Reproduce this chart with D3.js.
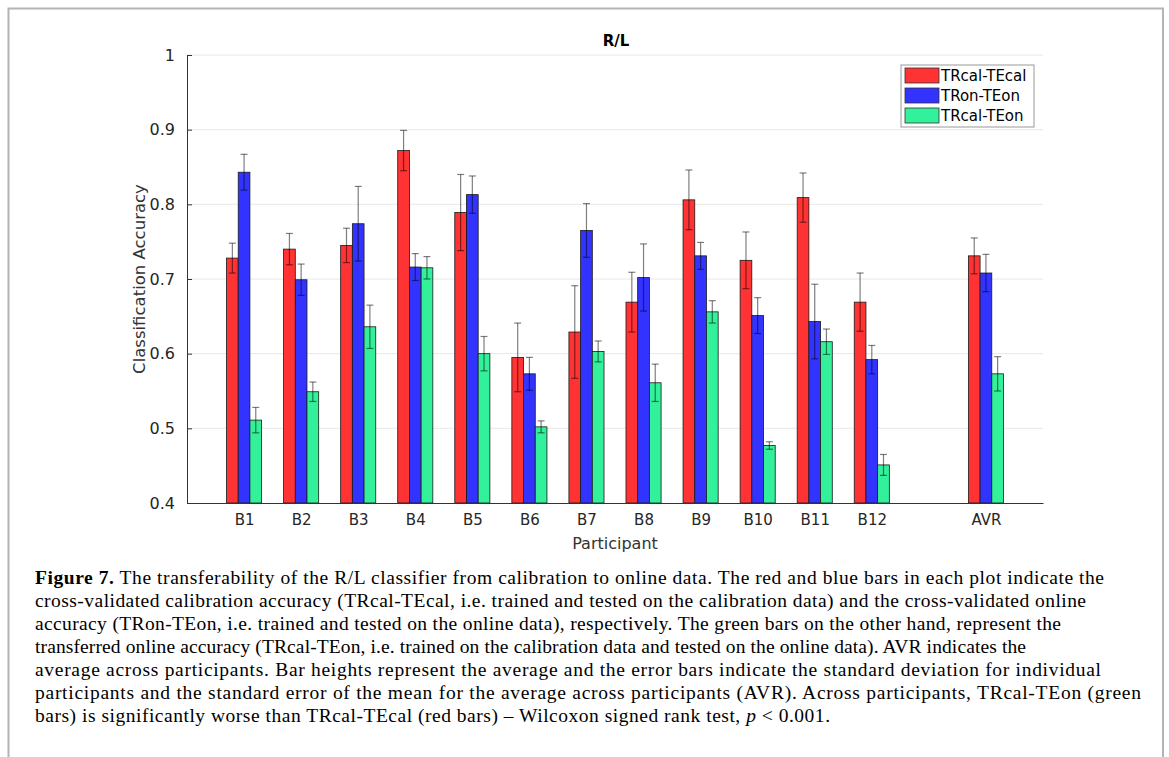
<!DOCTYPE html>
<html>
<head>
<meta charset="utf-8">
<script src="https://cdn.jsdelivr.net/npm/d3@7"></script>
<style>
  html, body { margin: 0; padding: 0; background: #fff; }
  svg { display: block; }
</style>
</head>
<body>
<svg id="chart" width="1169" height="757"></svg>
<script>
// ---------- data ----------
const categories = ["B1","B2","B3","B4","B5","B6","B7","B8","B9","B10","B11","B12","AVR"];
const seriesNames = ["TRcal-TEcal","TRon-TEon","TRcal-TEon"];
const seriesColors = ["#ff3333","#3333ff","#33f09a"];
const trcalTecal    = [0.728,0.740,0.745,0.872,0.789,0.595,0.629,0.669,0.806,0.725,0.809,0.669,0.731];
const trcalTecalErr = [0.020,0.021,0.023,0.027,0.051,0.046,0.062,0.040,0.040,0.038,0.033,0.039,0.024];
const tronTeon      = [0.843,0.699,0.774,0.716,0.813,0.573,0.765,0.702,0.731,0.651,0.643,0.592,0.708];
const tronTeonErr   = [0.024,0.021,0.050,0.018,0.025,0.022,0.036,0.045,0.018,0.024,0.050,0.019,0.025];
const trcalTeon     = [0.511,0.549,0.636,0.715,0.600,0.502,0.603,0.561,0.656,0.477,0.616,0.451,0.573];
const trcalTeonErr  = [0.017,0.013,0.029,0.015,0.023,0.008,0.014,0.025,0.015,0.005,0.017,0.014,0.023];
const yTicks = [0.4,0.5,0.6,0.7,0.8,0.9,1];
const yTickLabels = ["0.4","0.5","0.6","0.7","0.8","0.9","1"];
const title = "R/L";
const xLabel = "Participant";
const yLabel = "Classification Accuracy";
const captionBold = "Figure 7.";
const captionLines = [
  " The transferability of the R/L classifier from calibration to online data. The red and blue bars in each plot indicate the",
  "cross-validated calibration accuracy (TRcal-TEcal, i.e. trained and tested on the calibration data) and the cross-validated online",
  "accuracy (TRon-TEon, i.e. trained and tested on the online data), respectively. The green bars on the other hand, represent the",
  "transferred online accuracy (TRcal-TEon, i.e. trained on the calibration data and tested on the online data). AVR indicates the",
  "average across participants. Bar heights represent the average and the error bars indicate the standard deviation for individual",
  "participants and the standard error of the mean for the average across participants (AVR). Across participants, TRcal-TEon (green",
  "bars) is significantly worse than TRcal-TEcal (red bars) \u2013 Wilcoxon signed rank test, "
];
// measured widths of each caption line in the reference (px)
const captionWidths = [1069, 1051, 1026, 991, 1066, 1106, 795];

const seriesVals = [trcalTecal, tronTeon, trcalTeon];
const seriesErrs = [trcalTecalErr, tronTeonErr, trcalTeonErr];

// ---------- layout ----------
const svg = d3.select("#chart");
const plotL = 187, plotR = 1043, plotT = 55, plotB = 503;

// slot index: participants 1..12, one empty slot, then AVR
const slotOf = (c, i) => c === "AVR" ? i + 2 : i + 1;
const x = d3.scaleLinear().domain([0, categories.length + 2]).range([plotL, plotR]);
const y = d3.scaleLinear().domain([0.4, 1]).range([plotB, plotT]);
const barW = (x(1) - x(0)) * 0.205;

// page border
svg.append("path")
  .attr("d", "M8.5,757 V8.5 H1163 V757")
  .attr("fill", "none").attr("stroke", "#b4b4b4").attr("stroke-width", 2);

// gridlines
svg.append("g").selectAll("line").data(yTicks.filter(v => v > 0.4)).join("line")
  .attr("x1", plotL).attr("x2", plotR)
  .attr("y1", d => y(d)).attr("y2", d => y(d))
  .attr("stroke", "#e8e8e8").attr("stroke-width", 1);

// bars
const flat = [];
seriesVals.forEach((vals, s) => vals.forEach((v, i) => flat.push({s, i, v, e: seriesErrs[s][i], c: categories[i]})));

svg.append("g").selectAll("rect").data(flat).join("rect")
  .attr("x", d => x(slotOf(d.c, d.i)) + (d.s - 1.5) * barW)
  .attr("width", barW)
  .attr("y", d => y(d.v))
  .attr("height", d => y(0.4) - y(d.v))
  .attr("fill", d => seriesColors[d.s])
  .attr("stroke", "#1a1a1a").attr("stroke-width", 0.8);

// error bars
const eg = svg.append("g").attr("stroke", "#000").attr("stroke-opacity", 0.5).attr("stroke-width", 1.2);
flat.forEach(d => {
  const cx = x(slotOf(d.c, d.i)) + (d.s - 1) * barW;
  const y1 = y(d.v + d.e), y0 = y(d.v - d.e);
  eg.append("line").attr("x1", cx).attr("x2", cx).attr("y1", y1).attr("y2", y0);
  eg.append("line").attr("x1", cx - 3.5).attr("x2", cx + 3.5).attr("y1", y1).attr("y2", y1);
  eg.append("line").attr("x1", cx - 3.5).attr("x2", cx + 3.5).attr("y1", y0).attr("y2", y0);
});

// axes
const yAxis = d3.axisLeft(y).tickValues(yTicks).tickFormat((d, i) => yTickLabels[i]).tickSizeInner(-5).tickSizeOuter(0).tickPadding(12);
const yg = svg.append("g").attr("transform", `translate(${plotL},0)`).call(yAxis);
yg.select(".domain").attr("stroke", "#333");
yg.selectAll(".tick line").attr("stroke", "#333");
yg.selectAll("text").attr("font-family", "DejaVu Sans, sans-serif").attr("font-size", 16).attr("fill", "#262626");

const xAxis = d3.axisBottom(x).tickValues(categories.map((c, i) => slotOf(c, i)))
  .tickFormat((d, i) => categories[i]).tickSizeInner(0).tickSizeOuter(0).tickPadding(11);
const xg = svg.append("g").attr("transform", `translate(0,${plotB})`).call(xAxis);
xg.select(".domain").attr("stroke", "#333");
xg.selectAll("text").attr("font-family", "DejaVu Sans, sans-serif").attr("font-size", 15).attr("fill", "#262626");

// title & labels
svg.append("text").attr("x", 616).attr("y", 46).attr("text-anchor", "middle")
  .attr("font-family", "DejaVu Sans, sans-serif").attr("font-weight", "bold").attr("font-size", 15)
  .attr("fill", "#000").text(title);
svg.append("text").attr("x", (plotL + plotR) / 2).attr("y", 549).attr("text-anchor", "middle")
  .attr("font-family", "DejaVu Sans, sans-serif").attr("font-size", 16).attr("fill", "#333").text(xLabel);
svg.append("text").attr("transform", `translate(145,${(plotT + plotB) / 2}) rotate(-90)`).attr("text-anchor", "middle")
  .attr("font-family", "DejaVu Sans, sans-serif").attr("font-size", 16.5).attr("fill", "#333").text(yLabel);

// legend
const lg = svg.append("g");
lg.append("rect").attr("x", 901).attr("y", 65).attr("width", 133).attr("height", 62)
  .attr("fill", "#fff").attr("stroke", "#999").attr("stroke-width", 1);
seriesNames.forEach((n, s) => {
  const ry = 68 + s * 20;
  lg.append("rect").attr("x", 905).attr("y", ry).attr("width", 34).attr("height", 15)
    .attr("fill", seriesColors[s]).attr("stroke", "#333").attr("stroke-width", 0.8);
  lg.append("text").attr("x", 941).attr("y", ry + 13)
    .attr("font-family", "DejaVu Sans, sans-serif").attr("font-size", 15).attr("fill", "#000").text(n);
});

// caption
const cg = svg.append("g").attr("font-family", "Liberation Serif, Times New Roman, serif").attr("font-size", 19.5).attr("fill", "#000");
captionLines.forEach((line, i) => {
  const t = cg.append("text").attr("x", 35).attr("y", 584 + i * 23)
    .attr("textLength", captionWidths[i]).attr("lengthAdjust", "spacing");
  if (i === 0) t.append("tspan").attr("font-weight", "bold").text(captionBold);
  t.append("tspan").text(line);
  if (i === captionLines.length - 1) {
    t.append("tspan").attr("font-style", "italic").text("p");
    t.append("tspan").text(" < 0.001.");
  }
});
</script>
</body>
</html>
